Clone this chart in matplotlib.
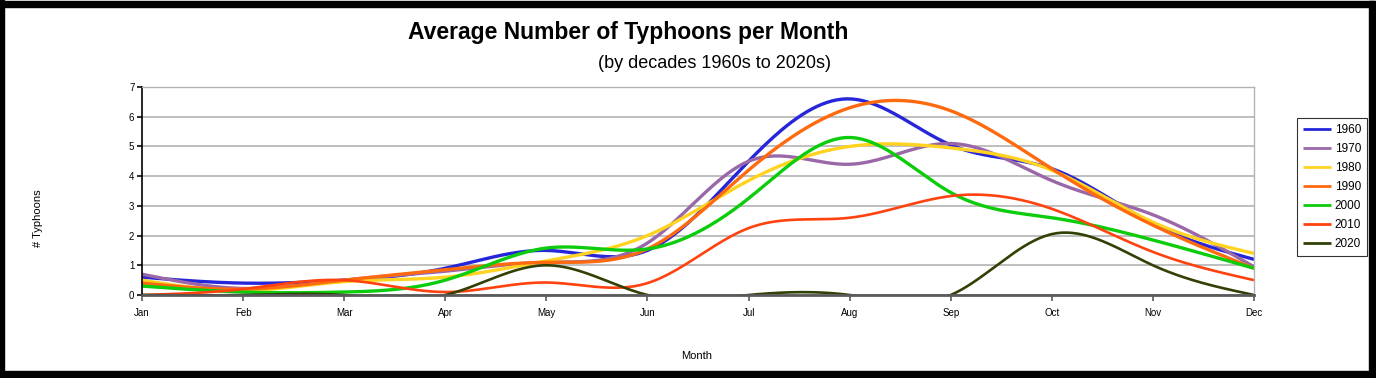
import numpy as np
import matplotlib.pyplot as plt
from matplotlib.patches import Rectangle

plt.rcParams['font.family'] = ['Liberation Sans', 'DejaVu Sans']

meses = ["Jan", "Feb", "Mar", "Apr", "May", "Jun",
         "Jul", "Aug", "Sep", "Oct", "Nov", "Dec"]

d1960 = [0.6, 0.4, 0.5, 0.9, 1.5, 1.5, 4.5, 6.6, 5.05, 4.25, 2.4, 1.2]
d1970 = [0.7, 0.22, 0.5, 0.8, 1.1, 1.75, 4.5, 4.4, 5.1, 3.85, 2.7, 0.95]
d1980 = [0.5, 0.15, 0.45, 0.6, 1.15, 2.0, 3.85, 5.0, 4.95, 4.2, 2.45, 1.4]
d1990 = [0.4, 0.2, 0.5, 0.85, 1.1, 1.55, 4.2, 6.3, 6.2, 4.25, 2.35, 0.9]
d2000 = [0.3, 0.1, 0.1, 0.5, 1.58, 1.55, 3.25, 5.3, 3.45, 2.6, 1.85, 0.9]
d2010 = [0.0, 0.2, 0.5, 0.1, 0.42, 0.4, 2.25, 2.6, 3.33, 2.9, 1.45, 0.5]
d2020 = [0, 0, 0, 0, 1.0, 0, 0, 0, 0, 2.05, 1.0, 0]

series = [
    ("1960", d1960, "#2525d9", 2.4),
    ("1970", d1970, "#9a68a8", 2.4),
    ("1980", d1980, "#ffd320", 2.4),
    ("1990", d1990, "#ff6a0e", 2.4),
    ("2000", d2000, "#0ccc0c", 2.4),
    ("2010", d2010, "#ff420e", 1.9),
    ("2020", d2020, "#314004", 1.9),
]


def spline_natural(y, n=40):
    """Spline cúbica natural con paso uniforme (como el suavizado del gráfico original)."""
    y = np.asarray(y, dtype=float)
    m = len(y)
    A = np.zeros((m, m))
    b = np.zeros(m)
    A[0, 0] = A[-1, -1] = 1.0
    for i in range(1, m - 1):
        A[i, i - 1], A[i, i], A[i, i + 1] = 1.0, 4.0, 1.0
        b[i] = 6.0 * (y[i + 1] - 2 * y[i] + y[i - 1])
    M = np.linalg.solve(A, b)
    xs, ys = [], []
    for i in range(m - 1):
        t = np.linspace(0, 1, n, endpoint=(i == m - 2))
        seg = ((1 - t) * y[i] + t * y[i + 1]
               + ((1 - t) ** 3 - (1 - t)) * M[i] / 6.0
               + (t ** 3 - t) * M[i + 1] / 6.0)
        xs.append(i + t)
        ys.append(seg)
    return np.concatenate(xs), np.concatenate(ys)


fig = plt.figure(figsize=(13.76, 3.78), dpi=100)
W, H = 1376, 378

# marco negro exterior
for (x0, y0, w, h) in [(0, 1, 1375, 6), (0, 0, 4, 378), (1369, 1, 6, 377), (0, 371, 1375, 7)]:
    fig.patches.append(Rectangle((x0 / W, 1 - (y0 + h) / H), w / W, h / H,
                                 transform=fig.transFigure, color="black", zorder=10))

ax = fig.add_axes([142 / W, 1 - 295 / H, (1254 - 142) / W, (295 - 87) / H])

for nombre, vals, color, lw in series:
    xs, ys = spline_natural(vals)
    ax.plot(xs, ys, color=color, lw=lw, label=nombre, solid_capstyle="butt")

ax.set_xlim(0, 11)
ax.set_ylim(0, 7)
ax.set_xticks(range(12))
ax.set_xticklabels(meses)
ax.set_yticks(range(8))
ax.yaxis.grid(True, color="#b3b3b3", lw=1.2)
ax.set_axisbelow(True)

ax.spines["left"].set_color("black")
ax.spines["left"].set_linewidth(1.2)
ax.spines["bottom"].set_color("#5a5a5a")
ax.spines["bottom"].set_linewidth(2.0)
ax.spines["top"].set_color("#b3b3b3")
ax.spines["right"].set_color("#b3b3b3")
ax.spines["top"].set_linewidth(1.0)
ax.spines["right"].set_linewidth(1.0)
ax.tick_params(axis="x", length=4, width=1.2, color="#5a5a5a", labelsize=7, pad=5)
ax.tick_params(axis="y", length=3.5, width=1.5, color="#333333", labelsize=7, pad=2)

fig.text(38 / W, 1 - 218 / H, "# Typhoons", rotation=90, fontsize=8,
         ha="center", va="center")
fig.text(697 / W, 1 - 356 / H, "Month", fontsize=8, ha="center", va="center")
fig.text(628 / W, 1 - 33 / H, "Average Number of Typhoons per Month", fontsize=16.5,
         fontweight="bold", ha="center", va="center")
fig.text(714 / W, 1 - 63 / H, "(by decades 1960s to 2020s)", fontsize=13,
         ha="center", va="center")

leg = fig.legend(loc="upper left", bbox_to_anchor=(1297 / W, 1 - 118 / H),
                 fontsize=8.5, frameon=True, fancybox=False, edgecolor="black",
                 handlelength=2.4, handletextpad=0.3, labelspacing=0.6,
                 borderpad=0.5, borderaxespad=0)
leg.get_frame().set_linewidth(0.8)
for h in leg.get_lines():
    h.set_linewidth(2.0)

fig.savefig("out.png", dpi=100)
